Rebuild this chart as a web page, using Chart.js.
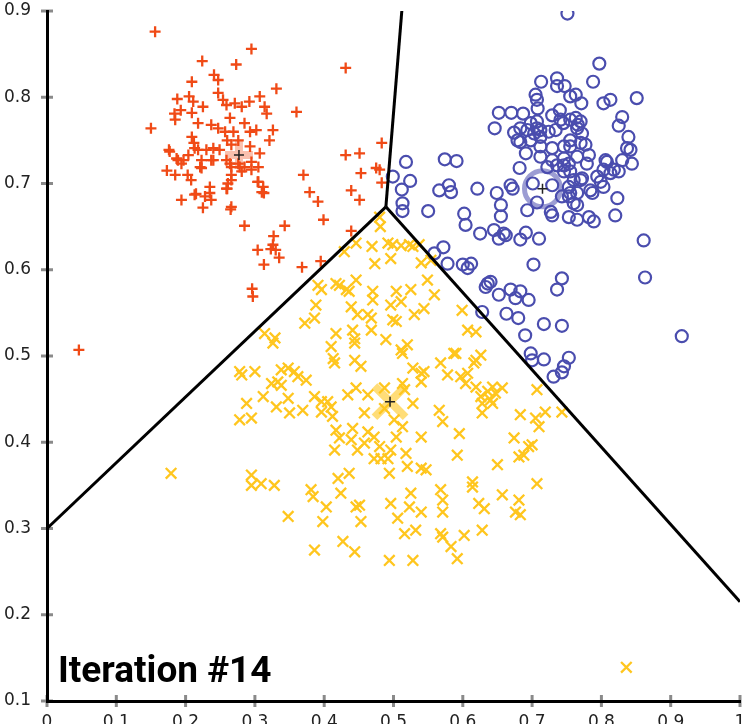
<!DOCTYPE html>
<html>
<head>
<meta charset="utf-8">
<script src="https://cdn.jsdelivr.net/npm/chart.js@4.4.0/dist/chart.umd.min.js"></script>
<style>
  html, body { margin: 0; padding: 0; background: #fff; }
</style>
</head>
<body>
<canvas id="chart" width="743" height="724"></canvas>
<script>
// tick labels
const xTicks = [0, 0.1, 0.2, 0.3, 0.4, 0.5, 0.6, 0.7, 0.8, 0.9, 1];
const yTicks = [0.1, 0.2, 0.3, 0.4, 0.5, 0.6, 0.7, 0.8, 0.9];

// cluster 1 (red +)
const redPoints = [
  [0.156,0.876],[0.295,0.856],[0.224,0.842],[0.273,0.838],[0.431,0.834],[0.241,0.826],[0.247,0.820],[0.209,0.818],
  [0.331,0.810],[0.360,0.783],[0.150,0.764],[0.431,0.733],[0.451,0.735],[0.483,0.747],[0.370,0.710],[0.453,0.712],
  [0.475,0.718],[0.480,0.716],[0.483,0.701],[0.379,0.690],[0.391,0.679],[0.439,0.692],[0.451,0.681],[0.399,0.658],
  [0.439,0.645],[0.285,0.651],[0.343,0.651],[0.265,0.670],[0.327,0.639],[0.326,0.629],[0.330,0.623],[0.335,0.614],
  [0.304,0.623],[0.323,0.624],[0.313,0.606],[0.368,0.603],[0.395,0.610],[0.296,0.578],[0.297,0.569],[0.194,0.681],
  [0.215,0.688],[0.225,0.672],[0.235,0.696],[0.237,0.681],[0.260,0.694],[0.305,0.702],[0.310,0.690],[0.173,0.715],
  [0.185,0.710],[0.203,0.710],[0.208,0.704],[0.176,0.739],[0.189,0.727],[0.194,0.723],[0.221,0.719],[0.237,0.727],
  [0.264,0.723],[0.278,0.719],[0.295,0.716],[0.261,0.700],[0.266,0.710],[0.188,0.798],[0.205,0.801],[0.211,0.795],
  [0.225,0.789],[0.247,0.805],[0.254,0.797],[0.259,0.791],[0.271,0.793],[0.292,0.795],[0.307,0.801],[0.314,0.789],
  [0.317,0.781],[0.184,0.781],[0.185,0.774],[0.193,0.785],[0.209,0.782],[0.218,0.770],[0.237,0.768],[0.247,0.764],
  [0.257,0.760],[0.264,0.776],[0.269,0.760],[0.281,0.789],[0.285,0.770],[0.293,0.760],[0.302,0.762],[0.326,0.762],
  [0.321,0.750],[0.209,0.754],[0.212,0.747],[0.213,0.741],[0.218,0.739],[0.230,0.739],[0.240,0.741],[0.249,0.739],
  [0.260,0.750],[0.266,0.745],[0.276,0.750],[0.293,0.743],[0.307,0.735],[0.177,0.737],[0.187,0.729],[0.197,0.727],
  [0.204,0.733],[0.223,0.727],[0.223,0.718],[0.240,0.727],[0.259,0.727],[0.266,0.719],[0.276,0.723],[0.285,0.719],
  [0.295,0.725],[0.305,0.719],[0.281,0.714],[0.304,0.702],[0.312,0.696],[0.313,0.689],[0.266,0.704],[0.259,0.694],
  [0.235,0.689],[0.228,0.685],[0.213,0.687],[0.266,0.673],[0.046,0.507]
];

// cluster 2 (blue o)
const bluePoints = [
  [0.751,0.897],[0.797,0.839],[0.788,0.818],[0.851,0.799],[0.803,0.793],[0.813,0.797],[0.713,0.818],[0.736,0.822],
  [0.736,0.813],[0.747,0.813],[0.705,0.803],[0.707,0.797],[0.708,0.787],[0.755,0.801],[0.763,0.803],[0.771,0.793],
  [0.652,0.782],[0.670,0.782],[0.687,0.781],[0.646,0.764],[0.830,0.777],[0.825,0.767],[0.839,0.754],[0.837,0.741],
  [0.842,0.739],[0.844,0.723],[0.830,0.727],[0.825,0.714],[0.518,0.725],[0.524,0.703],[0.512,0.693],[0.499,0.708],
  [0.574,0.728],[0.591,0.726],[0.566,0.692],[0.583,0.690],[0.580,0.698],[0.621,0.694],[0.649,0.689],[0.669,0.698],
  [0.672,0.694],[0.682,0.718],[0.691,0.735],[0.674,0.759],[0.679,0.750],[0.683,0.764],[0.698,0.770],[0.707,0.764],
  [0.703,0.758],[0.712,0.754],[0.729,0.779],[0.740,0.785],[0.745,0.770],[0.755,0.774],[0.763,0.776],[0.766,0.768],
  [0.712,0.743],[0.729,0.741],[0.746,0.743],[0.755,0.750],[0.770,0.747],[0.712,0.731],[0.729,0.727],[0.736,0.721],
  [0.753,0.723],[0.765,0.731],[0.782,0.733],[0.779,0.723],[0.806,0.727],[0.803,0.716],[0.813,0.712],[0.818,0.716],
  [0.794,0.708],[0.799,0.702],[0.784,0.692],[0.803,0.696],[0.746,0.714],[0.755,0.714],[0.760,0.704],[0.770,0.704],
  [0.753,0.696],[0.755,0.689],[0.765,0.689],[0.823,0.683],[0.701,0.700],[0.729,0.698],[0.513,0.677],[0.513,0.668],
  [0.550,0.668],[0.655,0.675],[0.655,0.662],[0.602,0.665],[0.604,0.652],[0.625,0.642],[0.645,0.646],[0.652,0.636],
  [0.662,0.640],[0.683,0.635],[0.691,0.643],[0.710,0.636],[0.693,0.669],[0.707,0.678],[0.727,0.667],[0.729,0.663],
  [0.743,0.685],[0.772,0.706],[0.760,0.677],[0.753,0.661],[0.765,0.658],[0.782,0.661],[0.789,0.656],[0.820,0.663],
  [0.861,0.634],[0.863,0.591],[0.916,0.523],[0.572,0.626],[0.559,0.619],[0.578,0.607],[0.600,0.606],[0.607,0.602],
  [0.612,0.607],[0.702,0.606],[0.743,0.590],[0.736,0.577],[0.636,0.584],[0.640,0.586],[0.633,0.580],[0.652,0.571],
  [0.669,0.577],[0.683,0.575],[0.676,0.567],[0.695,0.565],[0.628,0.551],[0.663,0.549],[0.680,0.544],[0.717,0.537],
  [0.743,0.535],[0.690,0.524],[0.698,0.503],[0.700,0.495],[0.717,0.496],[0.753,0.498],[0.746,0.488],[0.731,0.476],
  [0.743,0.481],[0.741,0.774],[0.770,0.772],[0.765,0.764],[0.772,0.758],[0.693,0.762],[0.707,0.772],[0.712,0.762],
  [0.724,0.760],[0.734,0.762],[0.683,0.748],[0.698,0.750],[0.755,0.743],[0.777,0.745],[0.746,0.729],[0.808,0.725],
  [0.722,0.719],[0.746,0.721],[0.787,0.689],[0.753,0.685],[0.765,0.675],[0.659,0.642]
];

// cluster 3 (yellow x)
const yellowPoints = [
  [0.481,0.650],[0.469,0.627],[0.492,0.631],[0.499,0.629],[0.511,0.628],[0.523,0.629],[0.528,0.627],[0.537,0.629],
  [0.429,0.621],[0.446,0.631],[0.473,0.607],[0.496,0.613],[0.540,0.608],[0.554,0.611],[0.391,0.582],[0.396,0.577],
  [0.417,0.584],[0.422,0.582],[0.446,0.588],[0.436,0.575],[0.470,0.575],[0.470,0.565],[0.504,0.575],[0.525,0.577],
  [0.549,0.588],[0.559,0.571],[0.511,0.563],[0.496,0.559],[0.388,0.559],[0.386,0.544],[0.372,0.538],[0.439,0.557],
  [0.448,0.548],[0.463,0.548],[0.468,0.544],[0.499,0.542],[0.504,0.540],[0.530,0.548],[0.544,0.555],[0.599,0.553],
  [0.314,0.526],[0.329,0.521],[0.326,0.515],[0.417,0.526],[0.441,0.530],[0.444,0.520],[0.444,0.515],[0.468,0.530],
  [0.489,0.519],[0.511,0.507],[0.513,0.503],[0.520,0.513],[0.587,0.503],[0.607,0.530],[0.619,0.528],[0.410,0.511],
  [0.413,0.497],[0.415,0.492],[0.444,0.495],[0.453,0.488],[0.278,0.482],[0.281,0.478],[0.300,0.482],[0.338,0.484],
  [0.348,0.486],[0.357,0.482],[0.362,0.476],[0.374,0.472],[0.324,0.468],[0.333,0.470],[0.338,0.466],[0.312,0.453],
  [0.331,0.441],[0.348,0.451],[0.350,0.434],[0.288,0.445],[0.278,0.426],[0.295,0.428],[0.369,0.437],[0.386,0.453],
  [0.396,0.447],[0.405,0.447],[0.396,0.435],[0.410,0.441],[0.412,0.430],[0.434,0.455],[0.446,0.463],[0.463,0.455],
  [0.487,0.463],[0.513,0.468],[0.516,0.461],[0.528,0.445],[0.540,0.480],[0.540,0.470],[0.568,0.492],[0.578,0.478],
  [0.590,0.503],[0.597,0.476],[0.607,0.480],[0.616,0.492],[0.604,0.468],[0.458,0.434],[0.487,0.439],[0.501,0.426],
  [0.513,0.418],[0.540,0.406],[0.566,0.437],[0.571,0.424],[0.595,0.410],[0.592,0.385],[0.417,0.414],[0.422,0.405],
  [0.415,0.391],[0.441,0.416],[0.439,0.403],[0.448,0.391],[0.463,0.412],[0.472,0.406],[0.480,0.395],[0.472,0.381],
  [0.482,0.381],[0.496,0.391],[0.504,0.406],[0.518,0.387],[0.540,0.370],[0.458,0.399],[0.492,0.381],[0.520,0.372],
  [0.494,0.364],[0.547,0.368],[0.628,0.434],[0.628,0.445],[0.643,0.445],[0.650,0.374],[0.674,0.405],[0.681,0.383],
  [0.688,0.385],[0.695,0.395],[0.700,0.397],[0.683,0.432],[0.705,0.428],[0.710,0.418],[0.719,0.435],[0.743,0.435],
  [0.707,0.352],[0.657,0.339],[0.681,0.333],[0.676,0.319],[0.683,0.316],[0.623,0.329],[0.631,0.323],[0.614,0.354],
  [0.614,0.348],[0.568,0.345],[0.571,0.333],[0.571,0.319],[0.568,0.294],[0.571,0.290],[0.583,0.279],[0.592,0.265],
  [0.602,0.292],[0.628,0.298],[0.525,0.341],[0.523,0.325],[0.540,0.319],[0.506,0.312],[0.516,0.294],[0.532,0.298],
  [0.496,0.329],[0.494,0.263],[0.528,0.263],[0.295,0.362],[0.295,0.350],[0.309,0.352],[0.328,0.350],[0.381,0.345],
  [0.384,0.337],[0.348,0.314],[0.403,0.325],[0.420,0.358],[0.436,0.364],[0.424,0.341],[0.446,0.325],[0.451,0.327],
  [0.453,0.308],[0.398,0.308],[0.427,0.285],[0.444,0.273],[0.386,0.275],[0.179,0.364],[0.836,0.139],[0.619,0.495],
  [0.626,0.501],[0.528,0.486],[0.544,0.482],[0.619,0.464],[0.626,0.453],[0.636,0.459],[0.640,0.449],[0.643,0.464],
  [0.647,0.457],[0.657,0.463],[0.707,0.461],[0.432,0.577],[0.480,0.661]
];

// centroids: red, blue, yellow
const centroids = [[0.277, 0.733], [0.715, 0.694], [0.495, 0.447]];

// voronoi boundaries (segments from the shared vertex)
const vertex = [0.489, 0.673];
const edgeEnds = [[0, 0.300], [0.512, 0.900], [1, 0.215]];

const toXY = arr => arr.map(p => ({ x: p[0], y: p[1] }));

const red = '#F04A16';
const blue = '#4A4DAE';
const yellow = '#FFC61E';

const boundaryDatasets = edgeEnds.map(e => ({
  data: toXY([vertex, e]),
  showLine: true,
  borderColor: '#000',
  borderWidth: 3,
  pointRadius: 0,
  fill: false
}));

const centerMarks = {
  id: 'centerMarks',
  beforeDraw(chart) {
    const { ctx, chartArea: a, scales: { x, y } } = chart;
    ctx.save();
    ctx.strokeStyle = '#8a8a8a';
    ctx.lineWidth = 3;
    xTicks.forEach(v => {
      const px = x.getPixelForValue(v);
      ctx.beginPath();
      ctx.moveTo(px, a.bottom - 6);
      ctx.lineTo(px, a.bottom + 6);
      ctx.stroke();
    });
    yTicks.forEach(v => {
      const py = y.getPixelForValue(v);
      ctx.beginPath();
      ctx.moveTo(a.left - 6, py);
      ctx.lineTo(a.left + 6, py);
      ctx.stroke();
    });
    ctx.restore();
  },
  afterDraw(chart) {
    const ctx = chart.ctx;
    ctx.save();
    ctx.font = 'bold 37px Roboto';
    ctx.fillStyle = '#000';
    ctx.textBaseline = 'alphabetic';
    ctx.fillText('Iteration #14', 58, 682, 216);
    ctx.restore();
  }
};

new Chart(document.getElementById('chart'), {
  type: 'scatter',
  data: {
    datasets: [
      ...boundaryDatasets,
      {
        data: toXY(centroids),
        pointStyle: 'cross',
        pointRadius: 5,
        borderWidth: 1.5,
        borderColor: '#222'
      },
      {
        data: toXY([centroids[0]]),
        pointStyle: 'cross',
        pointRadius: 14,
        borderWidth: 8,
        borderColor: 'rgba(240,74,22,0.35)'
      },
      {
        data: toXY([centroids[1]]),
        pointStyle: 'circle',
        pointRadius: 18,
        borderWidth: 5,
        borderColor: 'rgba(74,77,174,0.55)',
        backgroundColor: 'rgba(0,0,0,0)'
      },
      {
        data: toXY([centroids[2]]),
        pointStyle: 'crossRot',
        pointRadius: 22,
        borderWidth: 8,
        borderColor: 'rgba(255,198,30,0.6)'
      },
      {
        data: toXY(redPoints),
        pointStyle: 'cross',
        pointRadius: 5.5,
        borderWidth: 2.3,
        borderColor: red
      },
      {
        data: toXY(bluePoints),
        pointStyle: 'circle',
        pointRadius: 6,
        borderWidth: 2.2,
        borderColor: blue,
        backgroundColor: 'rgba(0,0,0,0)'
      },
      {
        data: toXY(yellowPoints),
        pointStyle: 'crossRot',
        pointRadius: 7.5,
        borderWidth: 2.3,
        borderColor: yellow
      }
    ]
  },
  options: {
    responsive: false,
    animation: false,
    layout: { autoPadding: false, padding: { top: 11, right: 3, left: 0, bottom: 0 } },
    plugins: { legend: { display: false }, tooltip: { enabled: false } },
    scales: {
      x: {
        type: 'linear',
        min: 0,
        max: 1,
        afterBuildTicks: s => { s.ticks = xTicks.map(v => ({ value: v })); },
        afterFit: s => { s.height = 23; s.paddingLeft = 0; s.paddingRight = 0; },
        ticks: {
          callback: v => String(Math.round(v * 10) / 10),
          font: { family: 'DejaVu Sans', size: 17 },
          color: '#222',
          padding: 11,
          maxRotation: 0,
          autoSkip: false
        },
        grid: { drawOnChartArea: false, drawTicks: false },
        border: { display: true, color: '#000', width: 3 }
      },
      y: {
        type: 'linear',
        min: 0.1,
        max: 0.9,
        afterBuildTicks: s => { s.ticks = yTicks.map(v => ({ value: v })); },
        afterFit: s => { s.width = 47; s.paddingTop = 0; s.paddingBottom = 0; },
        ticks: {
          callback: v => String(Math.round(v * 10) / 10),
          font: { family: 'DejaVu Sans', size: 17 },
          color: '#222',
          padding: 16,
          autoSkip: false
        },
        grid: { drawOnChartArea: false, drawTicks: false },
        border: { display: true, color: '#000', width: 3 }
      }
    }
  },
  plugins: [centerMarks]
});
</script>
</body>
</html>
